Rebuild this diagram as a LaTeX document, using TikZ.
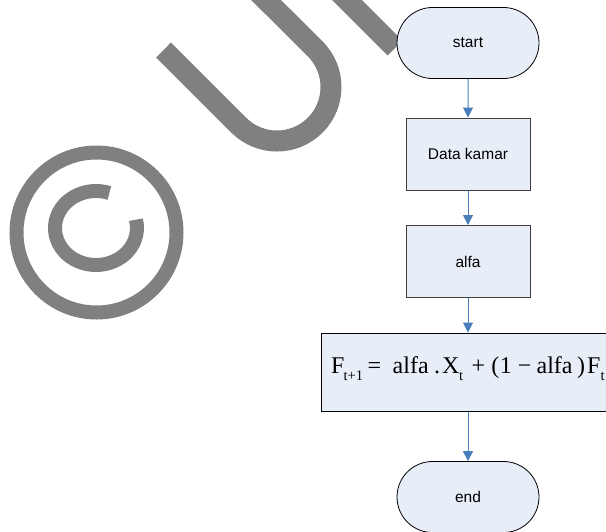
\documentclass[tikz,border=0pt]{standalone}
\usepackage{fontspec}
\setmainfont{Liberation Sans}
\newfontfamily\formfont{Liberation Serif}
\usetikzlibrary{shapes.misc,arrows.meta}
\definecolor{boxfill}{HTML}{E8EEF8}
\definecolor{arrowblue}{HTML}{4A7EBB}
\definecolor{wmgray}{HTML}{808080}
\definecolor{boxline}{HTML}{404040}
\newcommand\fsub[1]{\raisebox{-0.3em}{\fontsize{14.5}{14.5}\selectfont #1}}
\newcommand\putat[2]{\makebox[0pt][l]{\hspace*{#1pt}#2}}
\begin{document}
\begin{tikzpicture}[x=1pt,y=-1pt,
  terminal/.style={rounded rectangle, draw=black, fill=boxfill, line width=0.8pt,
    minimum width=142pt, minimum height=71pt, inner sep=0pt,
    font=\fontsize{15.5}{18}\selectfont},
  procbox/.style={rectangle, draw=boxline, fill=boxfill, line width=1pt,
    minimum width=124pt, minimum height=72pt, inner sep=0pt,
    font=\fontsize{15.5}{18}\selectfont},
  wide/.style={rectangle, draw=black, fill=boxfill, line width=1pt,
    minimum width=339pt, minimum height=78pt, inner sep=0pt},
  arr/.style={draw=arrowblue, line width=1pt, -{Triangle[width=10pt,length=10pt]}},
  wm/.style={draw=wmgray, line width=14pt}]
\useasboundingbox (0,0) rectangle (606,531);
\clip (0,0) rectangle (606,531);
% watermark
\draw[wm] (96.5,232.5) circle[radius=80];
\draw[wm] (96,228) ++(-71:41 and 37) arc[start angle=-71, end angle=-373, x radius=41, y radius=37];
\draw[wm, line width=21pt] (163.5,50) -- (238.8,125.2)
   arc[start angle=135, end angle=-45, radius=54] -- (255,-11);
\draw[wm, line width=21pt] (330,-17) -- (395,48);
% flowchart
\node[terminal] (s) at (468,43) {start};
\node[procbox] (d) at (468,154) {Data kamar};
\node[procbox] (a) at (468,261.5) {alfa};
\node[wide] (f) at (490.5,372) {};
\node[anchor=base west, inner sep=0pt, font=\formfont\fontsize{24}{27}\selectfont] (ft) at (330.5,373.5)
  {\putat{0}{F}\putat{12.5}{\fsub{t+1}}\putat{36.5}{=}\putat{61.5}{alfa}\putat{103}{.}%
   \putat{110.9}{X}\putat{128}{\fsub{t}}\putat{140.5}{+}\putat{160.1}{(}\putat{168.7}{1}%
   \putat{186.7}{−}\putat{205.4}{alfa}\putat{245.8}{)}\putat{255.9}{F}\putat{269.5}{\fsub{t}}};
\node[terminal] (e) at (468,497) {end};
\draw[arr] (s) -- (d);
\draw[arr] (d) -- (a);
\draw[arr] (a.south) -- (a.south |- f.north);
\draw[arr] (f.south -| e.north) -- (e.north);
\end{tikzpicture}
\end{document}
